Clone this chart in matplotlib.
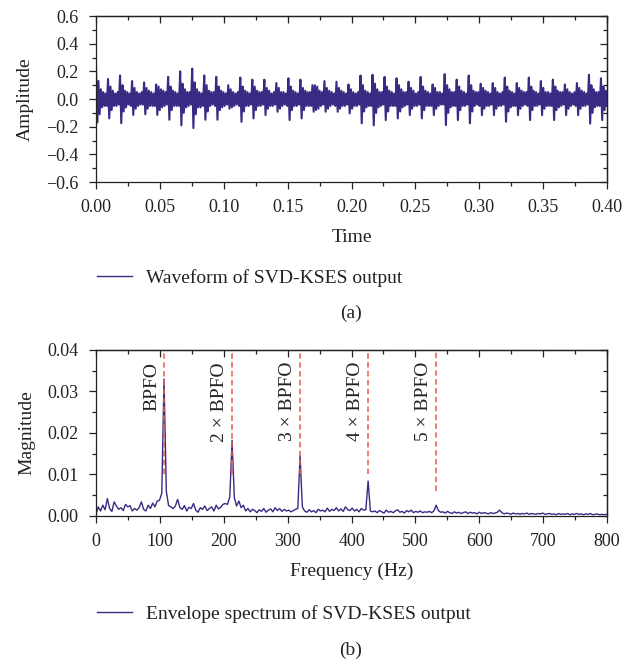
import numpy as np
import matplotlib
matplotlib.use('Agg')
import matplotlib.pyplot as plt
from matplotlib.ticker import MultipleLocator, FuncFormatter

plt.rcParams['font.family'] = ['Liberation Serif', 'DejaVu Serif']
plt.rcParams['axes.unicode_minus'] = True

# ---------------- data ----------------
# (a) waveform samples (signed), 10 samples per fault period
wave_samples = [
    0.24, -0.17, 0.13, -0.11, 0.07, -0.06, 0.05, -0.05, 0.04, -0.05,
    0.145, -0.14, 0.09, -0.08, 0.06, -0.05, 0.04, -0.05, 0.05, -0.04,
    0.17, -0.175, 0.10, -0.09, 0.06, -0.06, 0.05, -0.04, 0.04, -0.05,
    0.13, -0.115, 0.08, -0.07, 0.05, -0.05, 0.04, -0.04, 0.05, -0.04,
    0.12, -0.11, 0.08, -0.07, 0.06, -0.05, 0.05, -0.05, 0.04, -0.05,
    0.105, -0.115, 0.09, -0.08, 0.07, -0.06, 0.06, -0.05, 0.05, -0.04,
    0.16, -0.15, 0.09, -0.08, 0.06, -0.05, 0.05, -0.05, 0.04, -0.05,
    0.20, -0.19, 0.11, -0.10, 0.07, -0.06, 0.05, -0.05, 0.05, -0.04,
    0.22, -0.21, 0.12, -0.11, 0.07, -0.06, 0.05, -0.06, 0.04, -0.05,
    0.17, -0.15, 0.10, -0.09, 0.06, -0.05, 0.05, -0.04, 0.05, -0.05,
    0.16, -0.15, 0.09, -0.08, 0.06, -0.06, 0.05, -0.05, 0.04, -0.04,
    0.10, -0.07, 0.07, -0.06, 0.05, -0.05, 0.04, -0.04, 0.05, -0.05,
    0.155, -0.165, 0.09, -0.09, 0.06, -0.05, 0.05, -0.05, 0.04, -0.04,
    0.14, -0.14, 0.09, -0.08, 0.06, -0.05, 0.05, -0.05, 0.05, -0.04,
    0.14, -0.116, 0.08, -0.07, 0.06, -0.05, 0.04, -0.05, 0.05, -0.04,
    0.115, -0.092, 0.08, -0.07, 0.05, -0.05, 0.05, -0.04, 0.04, -0.05,
    0.15, -0.152, 0.09, -0.08, 0.06, -0.05, 0.05, -0.05, 0.04, -0.04,
    0.14, -0.14, 0.08, -0.08, 0.06, -0.05, 0.05, -0.05, 0.05, -0.05,
    0.10, -0.092, 0.10, -0.08, 0.09, -0.07, 0.06, -0.05, 0.05, -0.04,
    0.13, -0.092, 0.08, -0.07, 0.06, -0.05, 0.05, -0.04, 0.04, -0.05,
    0.125, -0.092, 0.08, -0.07, 0.06, -0.05, 0.05, -0.05, 0.04, -0.04,
    0.105, -0.104, 0.07, -0.07, 0.05, -0.05, 0.04, -0.05, 0.05, -0.04,
    0.17, -0.176, 0.10, -0.09, 0.06, -0.06, 0.05, -0.05, 0.04, -0.05,
    0.175, -0.19, 0.11, -0.10, 0.07, -0.06, 0.05, -0.05, 0.05, -0.04,
    0.16, -0.152, 0.09, -0.09, 0.06, -0.05, 0.05, -0.05, 0.04, -0.05,
    0.15, -0.14, 0.10, -0.09, 0.07, -0.06, 0.05, -0.05, 0.05, -0.04,
    0.125, -0.116, 0.08, -0.07, 0.06, -0.05, 0.04, -0.05, 0.05, -0.04,
    0.16, -0.14, 0.09, -0.08, 0.06, -0.05, 0.05, -0.05, 0.04, -0.05,
    0.105, -0.116, 0.08, -0.07, 0.05, -0.05, 0.05, -0.04, 0.04, -0.04,
    0.18, -0.188, 0.10, -0.10, 0.07, -0.06, 0.05, -0.05, 0.05, -0.05,
    0.14, -0.152, 0.09, -0.08, 0.06, -0.05, 0.05, -0.05, 0.04, -0.04,
    0.17, -0.176, 0.10, -0.09, 0.06, -0.05, 0.05, -0.04, 0.05, -0.05,
    0.11, -0.116, 0.08, -0.07, 0.06, -0.05, 0.05, -0.05, 0.04, -0.04,
    0.115, -0.116, 0.08, -0.07, 0.05, -0.05, 0.04, -0.05, 0.05, -0.04,
    0.155, -0.164, 0.09, -0.09, 0.06, -0.06, 0.05, -0.05, 0.04, -0.05,
    0.115, -0.116, 0.08, -0.07, 0.06, -0.05, 0.05, -0.04, 0.05, -0.05,
    0.155, -0.152, 0.09, -0.08, 0.06, -0.05, 0.05, -0.05, 0.04, -0.04,
    0.13, -0.116, 0.08, -0.07, 0.05, -0.05, 0.05, -0.05, 0.04, -0.05,
    0.14, -0.152, 0.09, -0.08, 0.06, -0.06, 0.05, -0.05, 0.05, -0.04,
    0.105, -0.116, 0.07, -0.07, 0.05, -0.05, 0.04, -0.04, 0.05, -0.05,
    0.115, -0.116, 0.08, -0.07, 0.06, -0.05, 0.05, -0.05, 0.04, -0.04,
    0.175, -0.178, 0.10, -0.10, 0.07, -0.06, 0.05, -0.05, 0.05, -0.05,
    0.15, -0.152, 0.09, -0.08, 0.06, -0.05,
]
time_end = 0.4

# (b) envelope spectrum magnitudes, frequency resolution freq_step (Hz)
freq_step = 3.55
spec_mag = [
    0.0004, 0.0022, 0.0012, 0.0026, 0.0015, 0.0042, 0.0018, 0.0011, 0.0034, 0.0024,
    0.0016, 0.0020, 0.0013, 0.0028, 0.0022, 0.0025, 0.0012, 0.0018, 0.0014, 0.0020,
    0.0034, 0.0016, 0.0012, 0.0026, 0.0018, 0.0031, 0.0022, 0.0036,
    0.0038, 0.0055, 0.0330, 0.0060, 0.0025,
    0.0022, 0.0018, 0.0024, 0.0040, 0.0020, 0.0016, 0.0025, 0.0012, 0.0021, 0.0018,
    0.0030, 0.0014, 0.0009, 0.0020, 0.0016, 0.0024, 0.0013, 0.0018, 0.0022, 0.0012,
    0.0026, 0.0017, 0.0021, 0.0028, 0.0030,
    0.0028, 0.0046, 0.0182, 0.0044, 0.0024,
    0.0036, 0.0020, 0.0026, 0.0012, 0.0018, 0.0010, 0.0016, 0.0013, 0.0008, 0.0015,
    0.0011, 0.0018, 0.0009, 0.0014, 0.0017, 0.0010, 0.0020, 0.0013, 0.0018, 0.0011,
    0.0016, 0.0012, 0.0014, 0.0010, 0.0013, 0.0016,
    0.0018, 0.0145, 0.0022, 0.0012,
    0.0009, 0.0015, 0.0010, 0.0013, 0.0008, 0.0016, 0.0012, 0.0014, 0.0010, 0.0019,
    0.0011, 0.0016, 0.0013, 0.0020, 0.0012, 0.0017, 0.0011, 0.0022, 0.0015, 0.0013,
    0.0019, 0.0012, 0.0016, 0.0010, 0.0018, 0.0014,
    0.0015, 0.0084, 0.0012, 0.0010,
    0.0012, 0.0008, 0.0013, 0.0010, 0.0007, 0.0014, 0.0009, 0.0011, 0.0008, 0.0012,
    0.0015, 0.0009, 0.0011, 0.0007, 0.0013, 0.0010, 0.0014, 0.0008, 0.0011, 0.0009,
    0.0012, 0.0008, 0.0010, 0.0009, 0.0011,
    0.0008, 0.0012, 0.0026, 0.0013, 0.0009,
    0.0010, 0.0007, 0.0011, 0.0008, 0.0006, 0.0010, 0.0007, 0.0009, 0.0006, 0.0008,
    0.0010, 0.0006, 0.0009, 0.0007, 0.0008, 0.0005, 0.0009, 0.0006, 0.0008, 0.0007,
    0.0005, 0.0008, 0.0006, 0.0007, 0.0009, 0.0014, 0.0008, 0.0005, 0.0007, 0.0006,
    0.0004, 0.0007, 0.0005, 0.0006, 0.0004, 0.0006, 0.0005, 0.0007, 0.0004, 0.0006,
    0.0005, 0.0004, 0.0006, 0.0005, 0.0007, 0.0004, 0.0005, 0.0006, 0.0004, 0.0005,
    0.0003, 0.0006, 0.0004, 0.0005, 0.0004, 0.0006, 0.0003, 0.0005, 0.0004, 0.0006,
    0.0004, 0.0005, 0.0003, 0.0005, 0.0004, 0.0006, 0.0003, 0.0004, 0.0005, 0.0003,
    0.0004, 0.0003, 0.0004,
]

bpfo_freqs = [106.5, 213.0, 319.5, 426.0, 532.5]
bpfo_labels = ['BPFO', '2 × BPFO', '3 × BPFO', '4 × BPFO', '5 × BPFO']
bpfo_line_bottom = [0.010, 0.010, 0.010, 0.010, 0.006]

wave_label = 'Waveform of SVD-KSES output'
spec_label = 'Envelope spectrum of SVD-KSES output'

# ---------------- styling ----------------
LINE_C = '#3b2a84'
RED_C = '#ec5a4e'
TXT_C = '#222222'
TICK_FS = 13
LAB_FS = 14

fig = plt.figure(figsize=(6.35, 6.65), dpi=100)
ax1 = fig.add_axes([0.1512, 0.7263, 0.8047, 0.2496])
ax2 = fig.add_axes([0.1512, 0.2241, 0.8047, 0.2496])


def fmt(decimals):
    def f(v, pos):
        if abs(v) < 1e-12:
            v = 0.0
        return f'{v:.{decimals}f}'.replace('-', '\u2212')
    return FuncFormatter(f)


def style_axes(ax, xmaj, ymaj):
    ax.xaxis.set_major_locator(MultipleLocator(xmaj))
    ax.xaxis.set_minor_locator(MultipleLocator(xmaj / 2))
    ax.yaxis.set_major_locator(MultipleLocator(ymaj))
    ax.yaxis.set_minor_locator(MultipleLocator(ymaj / 2))
    ax.tick_params(which='both', direction='out', top=False, right=False,
                   labelsize=TICK_FS, width=0.9, colors=TXT_C)
    ax.tick_params(which='major', length=5, pad=7.5)
    ax.tick_params(which='minor', length=3)
    for s in ax.spines.values():
        s.set_linewidth(0.9)
        s.set_color(TXT_C)
    sx = ax.secondary_xaxis('top')
    sx.xaxis.set_major_locator(MultipleLocator(xmaj))
    sx.xaxis.set_minor_locator(MultipleLocator(xmaj / 2))
    sx.tick_params(which='both', direction='in', labeltop=False, width=0.9, colors=TXT_C)
    sx.tick_params(which='major', length=5)
    sx.tick_params(which='minor', length=3)
    sx.spines['top'].set_linewidth(0.9)
    sy = ax.secondary_yaxis('right')
    sy.yaxis.set_major_locator(MultipleLocator(ymaj))
    sy.yaxis.set_minor_locator(MultipleLocator(ymaj / 2))
    sy.tick_params(which='both', direction='in', labelright=False, width=0.9, colors=TXT_C)
    sy.tick_params(which='major', length=5)
    sy.tick_params(which='minor', length=3)
    sy.spines['right'].set_linewidth(0.9)


# ---- (a) waveform ----
t = np.linspace(0, time_end, len(wave_samples))
l1, = ax1.plot(t, wave_samples, color=LINE_C, lw=1.5, label=wave_label)
ax1.set_xlim(0, 0.4)
ax1.set_ylim(-0.6, 0.6)
style_axes(ax1, 0.05, 0.2)
ax1.xaxis.set_major_formatter(fmt(2))
ax1.yaxis.set_major_formatter(fmt(1))
ax1.set_xlabel('Time', fontsize=LAB_FS, labelpad=9, color=TXT_C)
ax1.set_ylabel('Amplitude', fontsize=LAB_FS, labelpad=9, color=TXT_C)

# ---- (b) envelope spectrum ----
freqs = np.arange(len(spec_mag)) * freq_step
l2, = ax2.plot(freqs, spec_mag, color=LINE_C, lw=1.0, label=spec_label)
ax2.set_xlim(0, 800)
ax2.set_ylim(0, 0.04)
style_axes(ax2, 100, 0.01)
ax2.xaxis.set_major_formatter(fmt(0))
ax2.yaxis.set_major_formatter(fmt(2))
ax2.set_xlabel('Frequency (Hz)', fontsize=LAB_FS, labelpad=9, color=TXT_C)
ax2.set_ylabel('Magnitude', fontsize=LAB_FS, labelpad=9, color=TXT_C)

for f, lab, yb in zip(bpfo_freqs, bpfo_labels, bpfo_line_bottom):
    ax2.vlines(f, yb, 0.04, colors=RED_C, linestyles=(0, (3.6, 2.2)), lw=1.1, zorder=3)
    ax2.text(f - 6, 0.0371, lab, rotation=90, ha='right', va='top',
             fontsize=LAB_FS, color=TXT_C)

# ---- legends and captions ----
for line, ylab in ((l1, 278), (l2, 614)):
    leg = fig.legend(handles=[line], loc='center left',
                     bbox_to_anchor=(97 / 635, 1 - ylab / 665),
                     frameon=False, borderpad=0, borderaxespad=0,
                     handlelength=1.8, handletextpad=0.7, fontsize=LAB_FS)
    leg.get_lines()[0].set_linewidth(1.0)
    for txt in leg.get_texts():
        txt.set_color(TXT_C)

fig.text(351 / 635, 1 - 313 / 665, '(a)', ha='center', va='center', fontsize=LAB_FS, color=TXT_C)
fig.text(351 / 635, 1 - 650 / 665, '(b)', ha='center', va='center', fontsize=LAB_FS, color=TXT_C)

fig.savefig('out.png', dpi=100)
